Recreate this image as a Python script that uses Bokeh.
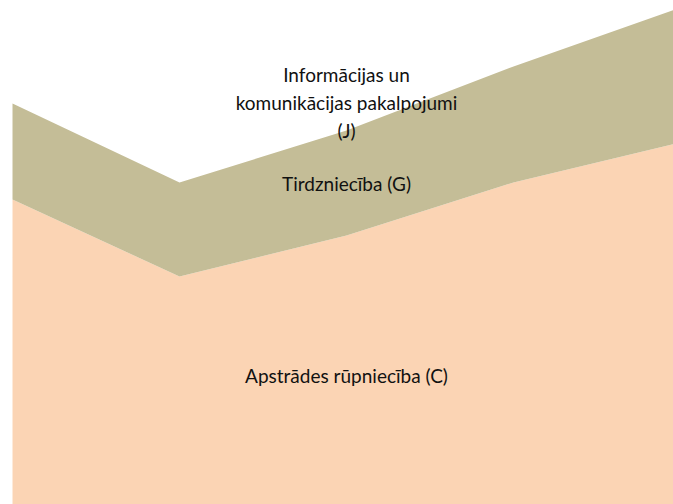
from bokeh.plotting import figure
from bokeh.models import ColumnDataSource, Range1d
from bokeh.core.properties import value
from bokeh.embed import file_html
from bokeh.resources import INLINE

# Data (arbitrary units)
periods = [0, 1, 2, 3, 4]
manufacturing_C = [63.2, 47.8, 56.0, 66.6, 74.6]
trade_G = [19.2, 18.8, 21.0, 23.2, 27.0]
label_C = "Apstrādes rūpniecība (C)"
label_G = "Tirdzniecība (G)"
label_J = "Informācijas un\nkomunikācijas pakalpojumi\n(J)"
label_J_level = 82.6

colors = ["#FBD4B4", "#C4BD97"]

source = ColumnDataSource(dict(x=periods, C=manufacturing_C, G=trade_G))

p = figure(width=673, height=504, output_backend="svg", toolbar_location=None,
           x_range=Range1d(-12 / 167, 661 / 167), y_range=Range1d(2.2, 103.0),
           min_border=0)
p.axis.visible = False
p.grid.visible = False
p.outline_line_color = None
p.background_fill_color = "white"

p.varea_stack(["C", "G"], x="x", source=source, color=colors)

mid = 2
yC = manufacturing_C[mid] / 2
yG = manufacturing_C[mid] + trade_G[mid] / 2

font = value("Lato")
p.text(x=[mid, mid], y=[yC, yG], text=[label_C, label_G],
       text_align="center", text_baseline="middle",
       text_font=font, text_font_size="19px", text_color="#111111")
p.text(x=[mid], y=[label_J_level], text=[label_J],
       text_align="center", text_baseline="middle", text_line_height=1.22,
       text_font=font, text_font_size="19px", text_color="#111111")

open("out.html", "w").write(file_html(p, INLINE))
